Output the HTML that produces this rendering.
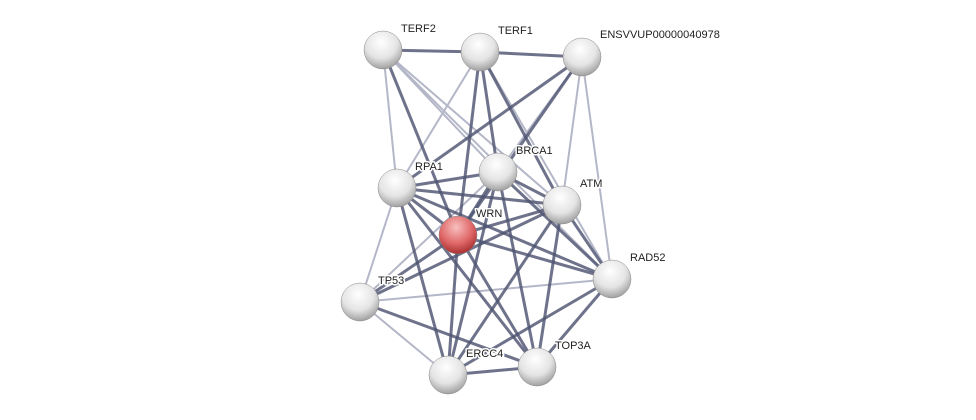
<!DOCTYPE html>
<html><head><meta charset="utf-8"><style>body{margin:0;background:#fff}svg{display:block}text{font-family:"Liberation Sans",sans-serif;font-size:11px;fill:#222;stroke:#fff;stroke-width:3px;paint-order:stroke;stroke-linejoin:round}</style></head><body>
<svg width="976" height="420" viewBox="0 0 976 420">
<defs>
<radialGradient id="g" cx="45%" cy="30%" r="70%"><stop offset="0" stop-color="#ffffff"/><stop offset="0.6" stop-color="#e4e4e4"/><stop offset="1" stop-color="#a0a0a0"/></radialGradient>
<radialGradient id="r" cx="45%" cy="30%" r="70%"><stop offset="0" stop-color="#f8c0c0"/><stop offset="0.6" stop-color="#e06868"/><stop offset="1" stop-color="#a83030"/></radialGradient>
</defs>
<g stroke="#b4b7c8" stroke-width="2">
<line x1="383" y1="50" x2="397" y2="188"/><line x1="383" y1="50" x2="498" y2="172"/><line x1="383" y1="50" x2="562" y2="205"/><line x1="383" y1="50" x2="612" y2="279"/>
<line x1="480" y1="52" x2="397" y2="188"/><line x1="480" y1="52" x2="612" y2="279"/>
<line x1="582" y1="57" x2="562" y2="205"/><line x1="582" y1="57" x2="612" y2="279"/><line x1="582" y1="57" x2="498" y2="172"/>
<line x1="612" y1="279" x2="360" y2="302"/><line x1="360" y1="302" x2="448" y2="375"/><line x1="397" y1="188" x2="360" y2="302"/><line x1="498" y1="172" x2="360" y2="302"/>
</g>
<g stroke="#4e5472" stroke-width="3" stroke-opacity="0.82">
<line x1="383" y1="50" x2="480" y2="52"/><line x1="480" y1="52" x2="582" y2="57"/><line x1="383" y1="50" x2="458" y2="235"/>
<line x1="480" y1="52" x2="458" y2="235"/><line x1="480" y1="52" x2="498" y2="172"/><line x1="480" y1="52" x2="562" y2="205"/>
<line x1="582" y1="57" x2="397" y2="188"/><line x1="582" y1="57" x2="458" y2="235"/>
<line x1="397" y1="188" x2="498" y2="172"/><line x1="397" y1="188" x2="562" y2="205"/><line x1="397" y1="188" x2="458" y2="235"/><line x1="397" y1="188" x2="448" y2="375"/><line x1="397" y1="188" x2="612" y2="279"/><line x1="397" y1="188" x2="537" y2="367"/>
<line x1="498" y1="172" x2="458" y2="235"/><line x1="498" y1="172" x2="562" y2="205"/><line x1="498" y1="172" x2="612" y2="279"/><line x1="498" y1="172" x2="537" y2="367"/><line x1="498" y1="172" x2="448" y2="375"/>
<line x1="562" y1="205" x2="458" y2="235"/><line x1="562" y1="205" x2="360" y2="302"/><line x1="562" y1="205" x2="612" y2="279"/><line x1="562" y1="205" x2="537" y2="367"/><line x1="562" y1="205" x2="448" y2="375"/>
<line x1="458" y1="235" x2="612" y2="279"/><line x1="458" y1="235" x2="360" y2="302"/><line x1="458" y1="235" x2="537" y2="367"/><line x1="458" y1="235" x2="448" y2="375"/>
<line x1="612" y1="279" x2="537" y2="367"/><line x1="612" y1="279" x2="448" y2="375"/><line x1="537" y1="367" x2="448" y2="375"/><line x1="360" y1="302" x2="537" y2="367"/>
</g>
<g stroke="#888" stroke-width="0.5">
<circle cx="383" cy="50" r="19" fill="url(#g)"/><circle cx="480" cy="52" r="19" fill="url(#g)"/><circle cx="582" cy="57" r="19" fill="url(#g)"/>
<circle cx="498" cy="172" r="19" fill="url(#g)"/><circle cx="397" cy="188" r="19" fill="url(#g)"/><circle cx="562" cy="205" r="19" fill="url(#g)"/>
<circle cx="458" cy="235" r="19" fill="url(#r)"/><circle cx="612" cy="279" r="19" fill="url(#g)"/><circle cx="360" cy="302" r="19" fill="url(#g)"/>
<circle cx="537" cy="367" r="19" fill="url(#g)"/><circle cx="448" cy="375" r="19" fill="url(#g)"/>
</g>
<text x="401" y="32">TERF2</text><text x="498" y="34">TERF1</text><text x="600" y="38">ENSVVUP00000040978</text>
<text x="516" y="154">BRCA1</text><text x="415" y="170">RPA1</text><text x="580" y="187">ATM</text><text x="476" y="217">WRN</text>
<text x="630" y="261">RAD52</text><text x="378" y="284">TP53</text><text x="555" y="349">TOP3A</text><text x="466" y="357">ERCC4</text>
</svg></body></html>
